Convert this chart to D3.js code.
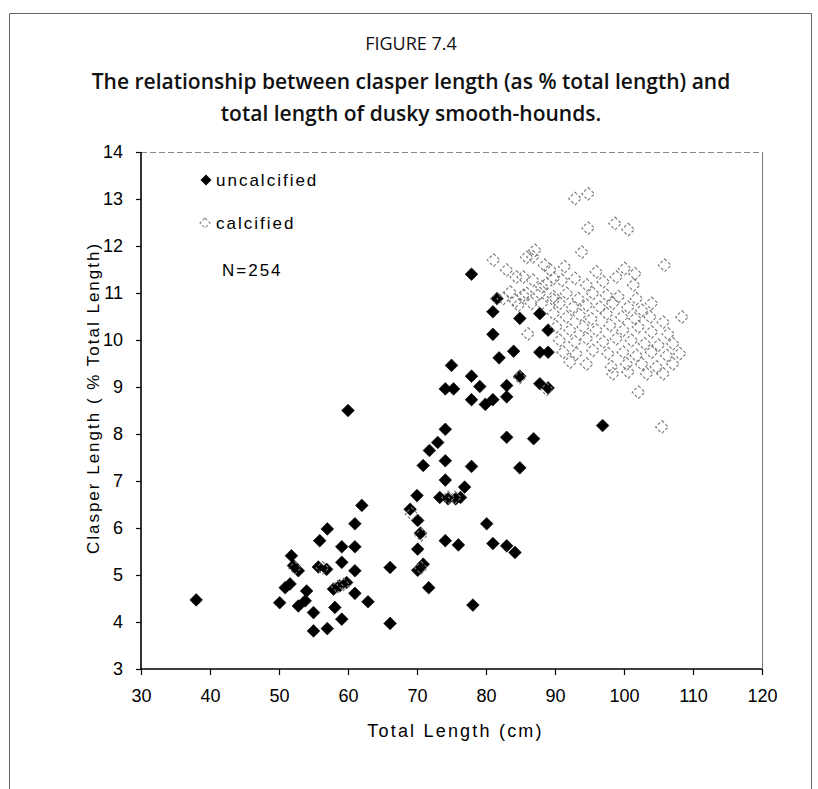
<!DOCTYPE html>
<html>
<head>
<meta charset="utf-8">
<script src="https://cdn.jsdelivr.net/npm/d3@7"></script>
<style>
  html, body { margin: 0; padding: 0; background: #fff; }
  svg { display: block; }
</style>
</head>
<body>
<svg id="chart" width="818" height="789"></svg>
<script>
// ---------- DATA ----------
const figureLabel = "FIGURE 7.4";
const titleLines = [
  "The relationship between clasper length (as % total length) and",
  "total length of dusky smooth-hounds."
];
const xTicks = [30, 40, 50, 60, 70, 80, 90, 100, 110, 120];
const yTicks = [3, 4, 5, 6, 7, 8, 9, 10, 11, 12, 13, 14];
const xTitle = "Total Length (cm)";
const yTitle = "Clasper Length ( % Total Length)";
const legendNames = ["uncalcified", "calcified"];
const sampleNote = "N=254";

// uncalcified: [total length (cm), clasper length (% TL)]
const uncalcified = [
  [38.0,4.47],[50.1,4.41],[50.9,4.73],[51.6,4.81],[51.8,5.41],[52.1,5.20],[52.8,5.09],[52.8,4.34],
  [53.8,4.45],[54.0,4.66],[55.0,4.20],[55.0,3.81],[57.0,3.86],[55.7,5.17],[55.9,5.73],[56.9,5.12],
  [57.0,5.98],[57.9,4.70],[58.1,4.31],[58.8,4.77],[59.1,4.06],[59.1,5.27],[59.1,5.60],[59.8,4.84],
  [60.0,8.50],[61.0,5.60],[61.0,6.09],[61.0,5.09],[61.0,4.61],[62.0,6.48],[62.9,4.43],[66.1,5.16],
  [66.1,3.97],
  [69.0,6.40],[70.0,6.69],[70.1,6.16],[70.5,5.89],[70.1,5.55],[70.9,5.23],[70.1,5.10],[71.7,4.73],
  [70.9,7.33],[71.8,7.65],[73.0,7.82],[74.1,8.10],[74.1,7.43],[74.1,7.02],[76.9,6.87],[73.3,6.65],
  [74.5,6.62],[75.6,6.62],[76.3,6.65],[74.1,5.73],[76.0,5.64],[78.1,4.36],
  [77.9,11.40],[81.6,10.88],[81.0,10.60],[84.9,10.46],[87.8,10.56],[89.0,10.21],[81.0,10.12],
  [84.0,9.76],[81.9,9.62],[87.8,9.74],[89.0,9.74],[75.0,9.46],[77.9,9.23],[84.9,9.23],[79.1,9.01],
  [83.0,9.03],[87.8,9.07],[89.0,8.98],[74.1,8.96],[75.3,8.96],[77.9,8.73],[81.0,8.73],[79.9,8.63],
  [83.0,8.79],[83.0,7.93],[86.9,7.90],[77.9,7.31],[84.9,7.28],[80.1,6.09],[81.0,5.67],[83.0,5.62],
  [84.2,5.48],[96.9,8.18]
];

// calcified: [total length (cm), clasper length (% TL)]
const calcified = [
  [92.9,13.01],[94.8,13.11],[94.8,12.38],[98.7,12.48],[100.6,12.35],
  [87.1,11.91],[85.9,11.76],[93.9,11.87],[81.1,11.70],[105.9,11.59],[91.4,11.56],[89.3,11.49],
  [83.0,11.49],[100.1,11.52],[101.6,11.41],[96.0,11.45],[84.4,11.34],[86.8,11.27],[88.8,11.20],
  [91.0,11.27],[92.9,11.31],[94.6,11.17],[97.0,11.24],[98.9,11.34],[101.4,11.17],
  [83.5,11.02],[85.4,10.95],[87.8,10.99],[89.8,10.92],[91.7,10.99],[93.4,10.88],[95.5,10.99],
  [97.5,10.95],[99.2,10.92],[101.8,10.88],[104.0,10.78],[82.5,10.88],[84.7,10.74],[86.6,10.78],
  [90.7,10.78],[92.6,10.70],[94.6,10.74],[96.5,10.70],[98.4,10.78],[100.6,10.70],[102.6,10.63],
  [108.4,10.49],
  [89.8,10.56],[91.7,10.49],[93.6,10.53],[95.3,10.45],[97.5,10.56],[99.7,10.49],[101.6,10.45],
  [103.8,10.49],[105.7,10.38],
  [90.2,10.28],[92.2,10.21],[94.1,10.28],[96.0,10.21],[98.0,10.31],[99.9,10.21],[102.1,10.28],
  [104.0,10.17],[106.4,10.13],[86.1,10.13],
  [90.7,9.99],[92.9,9.96],[94.6,10.03],[97.0,9.96],[98.9,10.03],[101.1,9.99],[103.0,9.92],
  [105.0,9.89],[107.1,9.92],
  [91.2,9.74],[93.1,9.71],[95.5,9.78],[97.7,9.71],[99.9,9.74],[101.8,9.67],[104.0,9.74],
  [106.2,9.67],[108.1,9.71],
  [92.2,9.53],[94.6,9.49],[98.2,9.43],[100.4,9.49],[102.6,9.49],[104.7,9.43],[107.1,9.49],
  [98.4,9.28],[100.6,9.32],[103.3,9.28],[105.7,9.28],[102.1,8.89],[105.5,8.15],
  [86.8,11.77],[88.5,11.59],[85.4,11.34],[89.8,11.31],[85.9,10.99],[88.1,11.13],[84.3,10.83],
  [88.1,10.78],[89.8,10.85],
  [81.6,10.88],[84.9,9.20],[88.8,8.95],[52.3,5.15],[56.3,5.15],[58.5,4.75],[59.3,4.80],
  [69.2,6.30],[70.6,5.85],[70.6,5.15],[74.5,6.65],[75.5,6.65]
];

// ---------- DRAWING ----------
const svg = d3.select("#chart");
const plot = { left: 141, right: 762, top: 152, bottom: 669 };

const x = d3.scaleLinear().domain([30, 120]).range([plot.left, plot.right]);
const y = d3.scaleLinear().domain([3, 14]).range([plot.bottom, plot.top]);

const sansTitle = "'Open Sans', 'Noto Sans', sans-serif";
const sansChart = "'Liberation Sans', Arial, sans-serif";

// outer figure frame
svg.append("path")
  .attr("d", `M9.5,789 L9.5,13.5 L811.5,13.5 L811.5,789`)
  .attr("fill", "none").attr("stroke", "#666").attr("stroke-width", 1);

// titles
svg.append("text").attr("x", 411).attr("y", 50)
  .attr("text-anchor", "middle").attr("font-family", sansTitle)
  .attr("font-size", 18).attr("fill", "#111").text(figureLabel);
titleLines.forEach((t, i) => {
  svg.append("text").attr("x", 411).attr("y", 89 + i * 32)
    .attr("text-anchor", "middle").attr("font-family", sansTitle)
    .attr("font-weight", 600).attr("font-size", 21).attr("fill", "#111").text(t);
});

// plot top / right borders (light)
svg.append("line").attr("x1", plot.left).attr("x2", plot.right)
  .attr("y1", plot.top + 0.5).attr("y2", plot.top + 0.5)
  .attr("stroke", "#888").attr("stroke-width", 1).attr("stroke-dasharray", "6,3");
svg.append("line").attr("x1", plot.right + 0.5).attr("x2", plot.right + 0.5)
  .attr("y1", plot.top).attr("y2", plot.bottom)
  .attr("stroke", "#777").attr("stroke-width", 1);

// axes
const xAxis = d3.axisBottom(x).tickValues(xTicks).tickSize(6).tickPadding(14).tickFormat(d3.format("d"));
const yAxis = d3.axisLeft(y).tickValues(yTicks).tickSize(5).tickPadding(13).tickFormat(d3.format("d"));

const gx = svg.append("g").attr("transform", `translate(0,${plot.bottom})`).call(xAxis);
const gy = svg.append("g").attr("transform", `translate(${plot.left},0)`).call(yAxis);
[gx, gy].forEach(g => {
  g.select(".domain").attr("stroke", "#000").attr("stroke-width", 1.6);
  g.selectAll(".tick line").attr("stroke", "#000").attr("stroke-width", 1.2);
  g.selectAll(".tick text").attr("font-family", sansChart).attr("font-size", 18)
    .attr("fill", "#000");
});
gx.select(".domain").attr("d", `M${plot.left},0H${plot.right}`);
gy.select(".domain").attr("d", `M0,${plot.bottom}V${plot.top}`);

// axis titles
svg.append("text").attr("x", (plot.left + plot.right) / 2 + 4).attr("y", 737)
  .attr("text-anchor", "middle").attr("font-family", sansChart).attr("font-size", 18)
  .attr("letter-spacing", 2.2).attr("fill", "#000").text(xTitle);
svg.append("text")
  .attr("transform", `translate(99,398) rotate(-90)`)
  .attr("text-anchor", "middle").attr("font-family", sansChart).attr("font-size", 17)
  .attr("letter-spacing", 2).attr("fill", "#000").text(yTitle);

// markers
const diamond = d3.symbol().type(d3.symbolSquare).size(80);

svg.append("g").selectAll("path").data(uncalcified).join("path")
  .attr("d", diamond)
  .attr("transform", d => `translate(${x(d[0])},${y(d[1])}) rotate(45)`)
  .attr("fill", "#000").attr("stroke", "#000").attr("stroke-width", 0.6);

svg.append("g").selectAll("path").data(calcified).join("path")
  .attr("d", diamond)
  .attr("transform", d => `translate(${x(d[0])},${y(d[1])}) rotate(45)`)
  .attr("fill", "none").attr("stroke", "#777").attr("stroke-width", 1.1)
  .attr("stroke-dasharray", "3,2");

// legend
const legend = svg.append("g");
legend.append("path").attr("d", d3.symbol().type(d3.symbolSquare).size(60))
  .attr("transform", `translate(206,180) rotate(45)`).attr("fill", "#000");
legend.append("path").attr("d", d3.symbol().type(d3.symbolSquare).size(50))
  .attr("transform", `translate(205,223) rotate(45)`).attr("fill", "none")
  .attr("stroke", "#888").attr("stroke-width", 1.1).attr("stroke-dasharray", "3,2");
legendNames.forEach((n, i) => {
  legend.append("text").attr("x", 216).attr("y", 186 + i * 43)
    .attr("font-family", sansChart).attr("font-size", 17).attr("letter-spacing", 2)
    .attr("fill", "#000").text(n);
});
legend.append("text").attr("x", 222).attr("y", 276)
  .attr("font-family", sansChart).attr("font-size", 17).attr("letter-spacing", 2)
  .attr("fill", "#000").text(sampleNote);
</script>
</body>
</html>
